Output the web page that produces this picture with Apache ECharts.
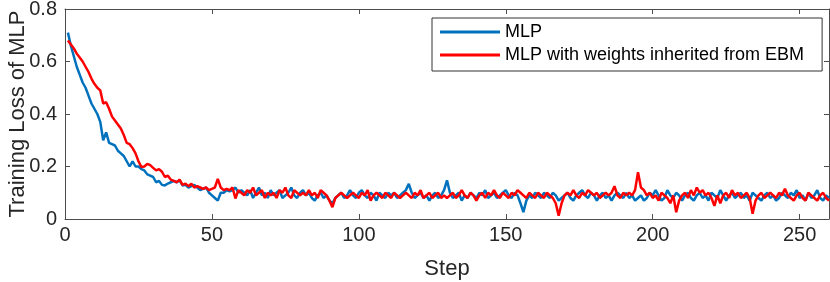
<!DOCTYPE html>
<html>
<head>
<meta charset="utf-8">
<script src="https://cdn.jsdelivr.net/npm/echarts@6/dist/echarts.min.js"></script>
<style>html,body{margin:0;padding:0;background:#fff;}#c{width:830px;height:282px;}</style>
</head>
<body>
<div id="c"></div>
<script>
var seriesNames = ["MLP", "MLP with weights inherited from EBM"];
var xTicks = [0, 50, 100, 150, 200, 250];
var yTicks = [0, 0.2, 0.4, 0.6, 0.8];
var mlp = [
0.71,0.66,0.62,0.58,0.55,0.52,0.50,0.47,0.44,0.42,
0.40,0.37,0.30,0.33,0.29,0.285,0.28,0.26,0.25,0.24,
0.22,0.20,0.22,0.20,0.20,0.19,0.185,0.17,0.165,0.16,
0.14,0.145,0.13,0.128,0.135,0.14,0.145,0.14,0.147,0.128,
0.13,0.12,0.125,0.13,0.12,0.11,0.115,0.12,0.10,0.09,
0.08,0.07,0.10,0.10,0.11,0.105,0.11,0.12,0.10,0.11,
0.10,0.09,0.11,0.08,0.10,0.12,0.09,0.10,0.08,0.11,
0.09,0.10,0.11,0.08,0.09,0.10,0.12,0.09,0.08,0.10,
0.11,0.09,0.10,0.08,0.07,0.09,0.10,0.08,0.09,0.07,
0.06,0.08,0.09,0.10,0.08,0.09,0.11,0.09,0.08,0.10,
0.11,0.09,0.08,0.10,0.09,0.07,0.10,0.09,0.08,0.10,
0.09,0.10,0.08,0.09,0.10,0.11,0.134,0.10,0.08,0.09,
0.10,0.08,0.09,0.07,0.09,0.10,0.08,0.09,0.11,0.147,
0.10,0.08,0.09,0.10,0.07,0.09,0.08,0.10,0.09,0.08,
0.10,0.09,0.11,0.08,0.09,0.10,0.08,0.09,0.10,0.11,
0.09,0.08,0.10,0.09,0.06,0.026,0.07,0.09,0.08,0.10,
0.09,0.08,0.10,0.09,0.08,0.10,0.09,0.07,0.08,0.09,
0.10,0.08,0.07,0.09,0.10,0.11,0.09,0.08,0.10,0.09,
0.07,0.09,0.10,0.08,0.09,0.07,0.09,0.10,0.09,0.08,
0.10,0.08,0.09,0.07,0.08,0.09,0.07,0.08,0.10,0.09,
0.11,0.09,0.07,0.08,0.11,0.09,0.08,0.10,0.09,0.07,
0.09,0.10,0.08,0.07,0.09,0.10,0.08,0.09,0.07,0.10,
0.09,0.08,0.11,0.09,0.07,0.09,0.10,0.08,0.09,0.10,
0.08,0.09,0.07,0.10,0.09,0.08,0.07,0.09,0.10,0.08,
0.09,0.07,0.08,0.10,0.09,0.08,0.10,0.09,0.11,0.08,
0.09,0.07,0.10,0.08,0.09,0.11,0.08,0.07,0.09,0.08
];
var mlpEbm = [
0.68,0.665,0.65,0.63,0.615,0.60,0.58,0.56,0.535,0.515,
0.50,0.49,0.44,0.445,0.42,0.39,0.375,0.36,0.345,0.32,
0.29,0.285,0.27,0.25,0.22,0.198,0.20,0.21,0.205,0.195,
0.185,0.19,0.18,0.16,0.165,0.15,0.145,0.14,0.15,0.13,
0.135,0.125,0.134,0.12,0.125,0.12,0.115,0.12,0.11,0.115,
0.12,0.153,0.12,0.11,0.115,0.11,0.12,0.078,0.11,0.10,
0.09,0.11,0.10,0.12,0.09,0.10,0.11,0.08,0.10,0.09,
0.10,0.08,0.11,0.10,0.12,0.09,0.08,0.11,0.10,0.09,
0.10,0.09,0.11,0.09,0.10,0.08,0.11,0.10,0.09,0.07,
0.045,0.08,0.09,0.10,0.09,0.08,0.09,0.10,0.09,0.08,
0.10,0.09,0.11,0.07,0.09,0.10,0.09,0.08,0.10,0.09,
0.08,0.10,0.09,0.08,0.09,0.10,0.09,0.08,0.10,0.09,
0.11,0.08,0.09,0.10,0.08,0.09,0.10,0.08,0.09,0.08,
0.09,0.10,0.08,0.09,0.11,0.09,0.08,0.10,0.09,0.07,
0.09,0.10,0.08,0.10,0.09,0.11,0.09,0.08,0.10,0.09,
0.08,0.10,0.09,0.11,0.10,0.09,0.08,0.10,0.09,0.08,
0.10,0.09,0.08,0.10,0.09,0.08,0.06,0.013,0.06,0.09,
0.10,0.09,0.11,0.09,0.08,0.10,0.09,0.11,0.10,0.09,
0.10,0.08,0.09,0.10,0.09,0.10,0.125,0.09,0.08,0.10,
0.09,0.10,0.09,0.11,0.178,0.12,0.11,0.09,0.10,0.08,
0.09,0.07,0.10,0.09,0.08,0.06,0.09,0.026,0.07,0.09,
0.10,0.08,0.11,0.09,0.12,0.10,0.11,0.09,0.10,0.08,
0.05,0.09,0.06,0.09,0.10,0.08,0.11,0.09,0.10,0.08,
0.09,0.10,0.08,0.02,0.07,0.09,0.10,0.08,0.09,0.10,
0.09,0.08,0.10,0.09,0.115,0.09,0.08,0.07,0.09,0.10,
0.08,0.07,0.10,0.09,0.08,0.07,0.09,0.10,0.08,0.07
];
function pairs(arr){ var out=[]; for (var i=0;i<arr.length;i++){ out.push([i+1, arr[i]]); } return out; }

var font = '"Liberation Sans", Arial, Helvetica, sans-serif';
var axisCol = '#262626';
var lineCol = '#4d4d4d';
var chart = echarts.init(document.getElementById('c'), null, {renderer:'canvas'});
var common = {
  min: 0, splitLine:{show:false}, nameMoveOverlap:false,
  axisLine:{show:true, onZero:false, lineStyle:{color:lineCol, width:1}},
  axisTick:{show:true, inside:true, length:5, lineStyle:{color:lineCol, width:1}}
};
chart.setOption({
  animation:false,
  backgroundColor:'#fff',
  grid:{left:65, right:1, top:9, bottom:63, containLabel:false, outerBoundsMode:'none'},
  legend:{
    orient:'vertical', left:432, top:18,
    data:seriesNames,
    backgroundColor:'#fff', borderColor:'#333', borderWidth:1,
    padding:[4,18,6,8], itemGap:3,
    itemWidth:60, itemHeight:3, icon:'rect',
    textStyle:{fontFamily:font, fontSize:18, lineHeight:20, color:'#000'}
  },
  xAxis:[
    Object.assign({}, common, {type:'value', max:260, interval:50, position:'bottom',
      name:'Step', nameLocation:'middle', nameGap:39,
      nameTextStyle:{fontFamily:font, fontSize:22, color:axisCol},
      axisLabel:{fontFamily:font, fontSize:20, color:axisCol, margin:6,
        formatter:function(v){ return xTicks.indexOf(v)>=0 ? String(v) : ''; }}}),
    Object.assign({}, common, {type:'value', max:260, interval:50, position:'top', axisLabel:{show:false}})
  ],
  yAxis:[
    Object.assign({}, common, {type:'value', max:0.8, interval:0.2, position:'left',
      name:'Training Loss of MLP', nameLocation:'middle', nameGap:36,
      nameTextStyle:{fontFamily:font, fontSize:22, color:axisCol},
      axisLabel:{fontFamily:font, fontSize:20, color:axisCol, margin:8,
        formatter:function(v){ var r=Math.round(v*10)/10; return yTicks.indexOf(r)>=0 ? (r===0?'0':r.toFixed(1)) : ''; }}}),
    Object.assign({}, common, {type:'value', max:0.8, interval:0.2, position:'right', axisLabel:{show:false}})
  ],
  series:[
    {name:seriesNames[0], type:'line', data:pairs(mlp), showSymbol:false, symbol:'none',
      lineStyle:{color:'#0072BD', width:2.5}, itemStyle:{color:'#0072BD'}, z:2},
    {name:seriesNames[1], type:'line', data:pairs(mlpEbm), showSymbol:false, symbol:'none',
      lineStyle:{color:'#FF0000', width:2.5}, itemStyle:{color:'#FF0000'}, z:3}
  ]
});
</script>
</body>
</html>
